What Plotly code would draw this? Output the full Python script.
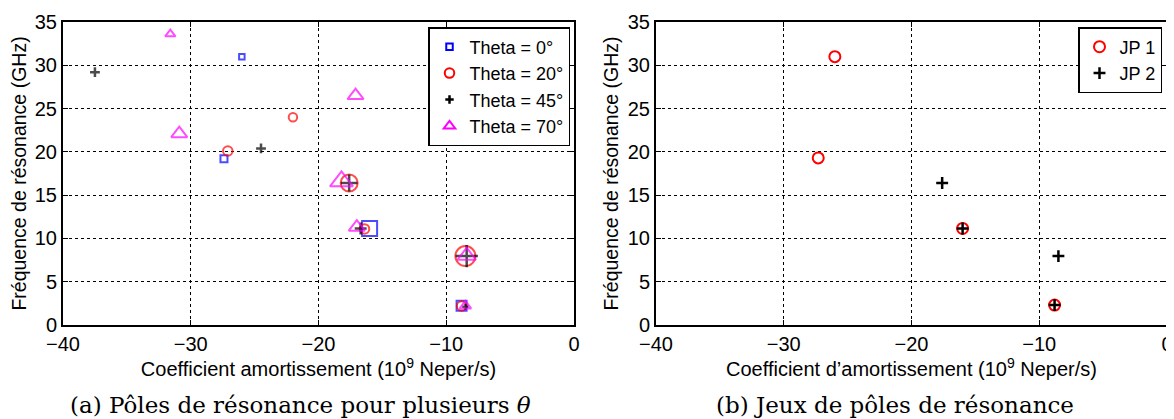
import plotly.graph_objects as go

# ---------------- data: (a) poles for several theta ----------------
t0_x = [-26.0, -27.4, -16.0, -8.8]
t0_y = [31.0, 19.2, 11.15, 2.23]
t20_x = [-22.0, -27.1, -17.6, -16.4, -8.5, -8.8]
t20_y = [24.0, 20.1, 16.4, 11.1, 7.96, 2.2]
t45_x = [-37.5, -24.5, -17.6, -16.7, -8.4, -8.5]
t45_y = [29.2, 20.4, 16.4, 11.15, 7.96, 2.1]
t70_x = [-31.6, -30.9, -17.1, -18.2, -17.0, -8.4, -8.5]
t70_y = [33.6, 22.1, 26.5, 16.6, 11.3, 8.0, 2.2]

# ---------------- data: (b) sets of poles ----------------
jp1_x = [-26.0, -27.3, -16.0, -8.8]
jp1_y = [31.0, 19.3, 11.15, 2.3]
jp2_x = [-17.6, -16.0, -8.5, -8.8]
jp2_y = [16.4, 11.15, 7.96, 2.3]

labels_a = ["Theta = 0°", "Theta = 20°", "Theta = 45°", "Theta = 70°"]
labels_b = ["JP 1", "JP 2"]

# marker sizes (style)
t0_s = [5.5, 7, 15, 10]
t20_s = [8.5, 9.5, 17, 9.5, 20, 9.5]
t45_s = [7, 7, 12, 8.5, 16, 4.5]
t70_s = [9, 14, 14, 20, 14, 16, 10]

BLUE, RED, BLACK, MAG = "#0000ff", "#ff0000", "#000000", "#ff00ff"
FONT = "Liberation Sans, Arial, sans-serif"
SERIF = "DejaVu Serif, serif"

fig = go.Figure()

def add(x, y, sym, color, size, name, xa, ya, lw=2):
    fig.add_trace(go.Scatter(x=x, y=y, mode="markers", xaxis=xa, yaxis=ya,
                             showlegend=False, legendgroup=name,
                             marker=dict(symbol=sym, size=size, color=color,
                                         line=dict(color=color, width=lw))))

def add_leg(sym, color, size, name, legend, lw=2):
    fig.add_trace(go.Scatter(x=[None], y=[None], mode="markers", name=name,
                             legend=legend, legendgroup=name,
                             marker=dict(symbol=sym, size=size, color=color,
                                         line=dict(color=color, width=lw))))

add(t0_x, t0_y, "square-open", BLUE, t0_s, labels_a[0], "x", "y")
add(t20_x, t20_y, "circle-open", RED, t20_s, labels_a[1], "x", "y")
add(t45_x, t45_y, "cross-thin", BLACK, t45_s, labels_a[2], "x", "y", lw=2.5)
add(t70_x, t70_y, "triangle-up-open", MAG, t70_s, labels_a[3], "x", "y")

add(jp1_x, jp1_y, "circle-open", RED, 11, labels_b[0], "x2", "y2")
add(jp2_x, jp2_y, "cross-thin", BLACK, 8.5, labels_b[1], "x2", "y2", lw=2.5)

add_leg("square-open", BLUE, 6.5, labels_a[0], "legend")
add_leg("circle-open", RED, 9.5, labels_a[1], "legend")
add_leg("cross-thin", BLACK, 6, labels_a[2], "legend", lw=2.5)
add_leg("triangle-up-open", MAG, 10, labels_a[3], "legend")
add_leg("circle-open", RED, 11, labels_b[0], "legend2")
add_leg("cross-thin", BLACK, 8.5, labels_b[1], "legend2", lw=2.5)

# page has an 8px body margin: figure is drawn 8px right/down
OFF = 8
W, H = 1174 - OFF, 419 - OFF
def fx(p): return (p - OFF) / W
def fy(p): return 1 - (p - OFF) / H

ax_common = dict(showline=True, linecolor="black", linewidth=2, mirror="allticks",
                 ticks="inside", ticklen=5, tickwidth=1, tickcolor="black",
                 showgrid=True, gridcolor="black", gridwidth=1, griddash="dot",
                 zeroline=False, automargin=False, ticklabeloverflow="allow",
                 tickfont=dict(family=FONT, size=20, color="black"))

xa = dict(ax_common, range=[-40, 0], dtick=10, tick0=0,
          title=dict(font=dict(family=FONT, size=20, color="black"), standoff=4))
ya = dict(ax_common, range=[0, 35], dtick=5, tick0=0,
          title=dict(text="Fréquence de résonance (GHz)",
                     font=dict(family=FONT, size=19.5, color="black"), standoff=4))

fig.update_layout(
    width=W, height=H, margin=dict(l=0, r=0, t=0, b=0, autoexpand=False),
    paper_bgcolor="white", plot_bgcolor="white",
    xaxis=dict(xa, domain=[fx(63), fx(574)], anchor="y",
               title=dict(xa["title"], text="Coefficient amortissement (10<sup>9</sup> Neper/s)")),
    yaxis=dict(ya, domain=[fy(325), fy(22)], anchor="x"),
    xaxis2=dict(xa, domain=[fx(656), fx(1167)], anchor="y2",
                title=dict(xa["title"], text="Coefficient d’amortissement (10<sup>9</sup> Neper/s)")),
    yaxis2=dict(ya, domain=[fy(325), fy(22)], anchor="x2"),
    legend=dict(x=fx(570), y=fy(27), xanchor="right", yanchor="top",
                bgcolor="white", bordercolor="black", borderwidth=1.5,
                font=dict(family=FONT, size=18, color="black"), tracegroupgap=0),
    legend2=dict(x=fx(1162), y=fy(27), xanchor="right", yanchor="top",
                 bgcolor="white", bordercolor="black", borderwidth=1.5,
                 font=dict(family=FONT, size=18, color="black"), tracegroupgap=0),
    annotations=[
        dict(text="(a) Pôles de résonance pour plusieurs <i>θ</i>", x=fx(300), y=fy(405),
             xref="paper", yref="paper", xanchor="center", yanchor="middle", showarrow=False,
             font=dict(family=SERIF, size=23, color="black")),
        dict(text="(b) Jeux de pôles de résonance", x=fx(895), y=fy(405),
             xref="paper", yref="paper", xanchor="center", yanchor="middle", showarrow=False,
             font=dict(family=SERIF, size=23, color="black")),
    ],
)

fig.write_html("out.html")
